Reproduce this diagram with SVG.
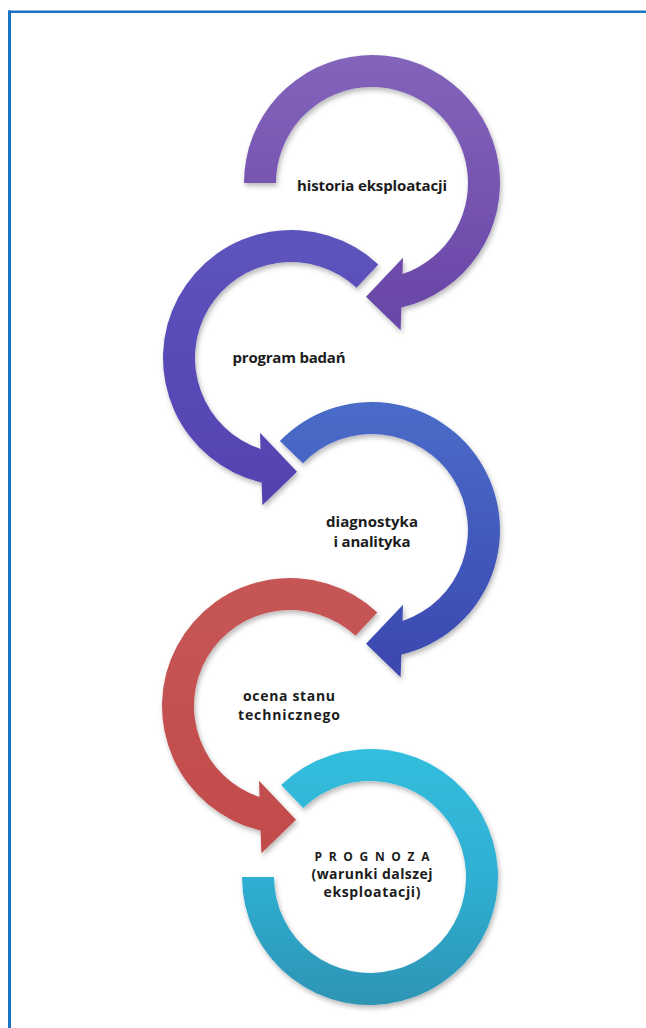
<svg xmlns="http://www.w3.org/2000/svg" width="646" height="1028" viewBox="0 0 646 1028">
<style>
.lbl{font-family:"Open Sans","Liberation Sans",sans-serif;font-weight:700;font-size:15px;fill:#1c1c1c;text-anchor:middle}
.sm{font-size:14px}
.caps{font-size:12px}
.frame{stroke:#1a72c2;fill:none}
</style>
<defs>
<filter id="sh" x="-20%" y="-20%" width="140%" height="140%">
<feDropShadow dx="1.5" dy="3" stdDeviation="2.5" flood-color="#000" flood-opacity="0.28"/>
</filter>
<linearGradient id="g1" x1="0" y1="0" x2="0" y2="1"><stop offset="0" stop-color="#8364BB"/><stop offset="1" stop-color="#6845A6"/></linearGradient>
<linearGradient id="g2" x1="0" y1="0" x2="0" y2="1"><stop offset="0" stop-color="#5C54BD"/><stop offset="1" stop-color="#5442B0"/></linearGradient>
<linearGradient id="g3" x1="0" y1="0" x2="0" y2="1"><stop offset="0" stop-color="#4A6CC9"/><stop offset="1" stop-color="#3B47AF"/></linearGradient>
<linearGradient id="g4" x1="0" y1="0" x2="0" y2="1"><stop offset="0" stop-color="#C65656"/><stop offset="1" stop-color="#C24B4B"/></linearGradient>
<linearGradient id="g5" x1="0" y1="0" x2="0" y2="1"><stop offset="0" stop-color="#33BEDE"/><stop offset="0.5" stop-color="#2EAFD3"/><stop offset="1" stop-color="#2E94B4"/></linearGradient>
</defs>
<rect width="646" height="1028" fill="#ffffff"/>
<g id="frame">
<line class="frame" x1="8" y1="11.8" x2="646" y2="11.8" stroke-width="2.6"/>
<line class="frame" x1="9.5" y1="10.5" x2="9.5" y2="1028" stroke-width="3"/>
</g>
<g id="connectors"/>
<g id="n1">
<path filter="url(#sh)" fill="url(#g1)" d="M244,183 A128,128 0 1,1 401.4,307.6 L400.6,330.2 L366,296.8 L403,257.8 L402.5,274 A96,96 0 1,0 276,183 Z"/>
<text class="lbl" x="372" y="191" textLength="150" lengthAdjust="spacing">historia eksploatacji</text>
</g>
<g id="n2">
<path filter="url(#sh)" fill="url(#g2)" d="M378.3,264.4 A128,128 0 1,0 261.6,482.6 L262.4,505.2 L297,471.8 L260,432.8 L260.5,449 A96,96 0 1,1 356.5,287.8 Z"/>
<text class="lbl" x="289" y="363" textLength="113" lengthAdjust="spacing">program badań</text>
</g>
<g id="n3">
<path filter="url(#sh)" fill="url(#g3)" d="M279.9,441.1 A128,128 0 1,1 401.4,654.6 L400.6,677.2 L366,643.8 L403,604.8 L402.5,621 A96,96 0 1,0 302.9,463.3 Z"/>
<text class="lbl" x="372" y="527" textLength="92" lengthAdjust="spacing">diagnostyka</text>
<text class="lbl" x="372" y="547" textLength="77" lengthAdjust="spacing">i analityka</text>
</g>
<g id="n4">
<path filter="url(#sh)" fill="url(#g4)" d="M377.3,612.4 A128,128 0 1,0 260.6,830.6 L261.4,853.2 L296,819.8 L259,780.8 L259.5,797 A96,96 0 1,1 355.5,635.8 Z"/>
<text class="lbl sm" x="289" y="701" textLength="92" lengthAdjust="spacing">ocena stanu</text>
<text class="lbl sm" x="289" y="720" textLength="102" lengthAdjust="spacing">technicznego</text>
</g>
<g id="n5">
<path filter="url(#sh)" fill="url(#g5)" d="M281.1,784.9 A128,128 0 1,1 242,877 L274,877 A96,96 0 1,0 303.3,807.9 Z"/>
<text class="lbl caps" x="372" y="861" textLength="115" lengthAdjust="spacing">PROGNOZA</text>
<text class="lbl sm" x="372" y="879" textLength="121" lengthAdjust="spacing">(warunki dalszej</text>
<text class="lbl sm" x="372" y="897" textLength="97" lengthAdjust="spacing">eksploatacji)</text>
</g>
</svg>
